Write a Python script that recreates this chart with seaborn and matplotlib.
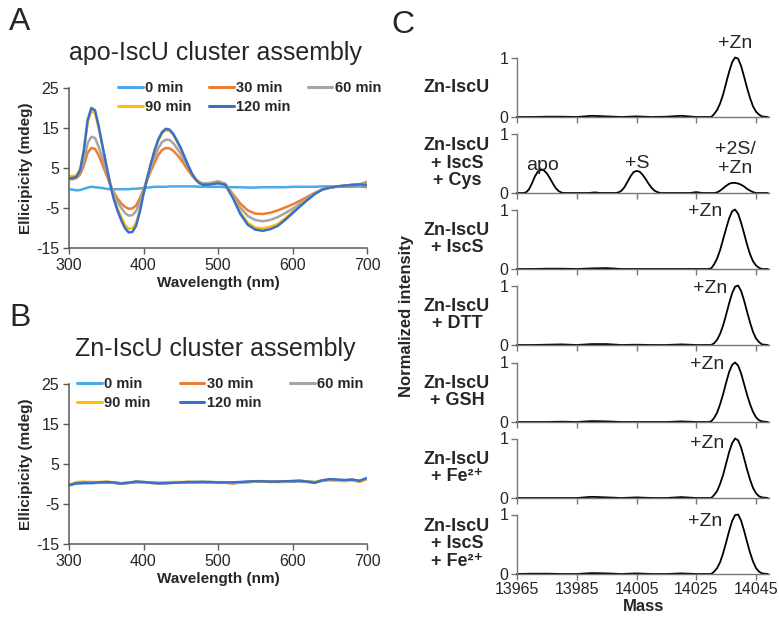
import matplotlib
matplotlib.use('Agg')
import matplotlib.pyplot as plt
import pandas as pd
import seaborn as sns

sns.set_style('ticks')
plt.rcParams['font.family'] = ['Liberation Sans', 'DejaVu Sans']
plt.rcParams['axes.unicode_minus'] = False

W, H = 779, 620

# ---- panel A : CD spectra of apo-IscU ----
wl_a = list(range(300, 481, 5)) + list(range(490, 701, 10))
times = ['0 min', '30 min', '60 min', '90 min', '120 min']
colors = ['#4ba9e9', '#ed7d31', '#a5a5a5', '#ffc000', '#3870cc']

apo_0 = [-0.3, -0.4, -0.6, -0.5, -0.2, 0.1, 0.3, 0.2, 0.1, 0.0, -0.2, -0.3, -0.3,
         -0.3, -0.3, -0.3, -0.3, -0.2, -0.2, -0.1, 0.0, 0.1, 0.2, 0.3, 0.3, 0.3,
         0.3, 0.4, 0.4, 0.4, 0.4, 0.4, 0.4, 0.4, 0.4, 0.3, 0.3, 0.3, 0.3,
         0.2, 0.2, 0.2, 0.1, 0.1, 0.2, 0.2, 0.2, 0.2, 0.3, 0.3, 0.3, 0.3, 0.4,
         0.4, 0.3, 0.3, 0.3, 0.4, 0.2]
apo_30 = [2.2, 2.2, 2.5, 3.4, 5.6, 8.8, 10.0, 9.8, 8.1, 5.8, 3.4, 1.0, -1.0,
          -2.6, -3.8, -4.7, -5.2, -5.1, -4.4, -2.6, -0.3, 2.0, 4.3, 6.4, 8.3, 9.5,
          10.0, 9.9, 9.3, 8.3, 7.2, 5.8, 4.4, 3.1, 2.1, 1.4, 1.1, 1.2, 1.3,
          0.9, -1.5, -3.9, -5.6, -6.4, -6.5, -6.2, -5.6, -4.9, -4.1, -3.2, -2.2, -1.2,
          -0.4, 0.1, 0.3, 0.5, 0.7, 0.8, 0.6]
apo_60 = [2.7, 2.7, 2.9, 4.0, 6.8, 11.2, 12.8, 12.5, 10.2, 7.3, 4.2, 1.2, -1.4,
          -3.4, -4.9, -6.2, -6.9, -6.8, -5.8, -3.6, -0.6, 2.4, 5.2, 7.8, 10.0, 11.5,
          12.1, 12.0, 11.2, 9.9, 8.5, 6.8, 5.1, 3.5, 2.3, 1.5, 1.1, 1.3, 1.7,
          1.1, -1.8, -4.9, -7.0, -8.0, -8.3, -8.0, -7.3, -6.3, -5.2, -3.9, -2.6, -1.3,
          -0.3, 0.1, 0.4, 0.6, 0.7, 0.9, 1.6]
apo_90 = [3.0, 3.0, 3.2, 4.8, 9.4, 16.4, 19.3, 18.7, 14.8, 10.2, 5.7, 1.3, -2.3,
          -5.0, -7.2, -9.1, -10.2, -10.1, -8.7, -5.5, -1.3, 2.5, 6.0, 9.3, 11.9, 13.7,
          14.4, 14.3, 13.3, 11.6, 9.8, 7.7, 5.6, 3.6, 2.2, 1.3, 0.9, 1.0, 1.3,
          0.9, -2.3, -6.1, -8.7, -9.9, -10.1, -9.7, -9.0, -7.6, -6.0, -4.4, -2.9, -1.4,
          -0.4, 0.1, 0.4, 0.6, 0.8, 0.9, 1.0]
apo_120 = [2.4, 2.5, 2.8, 4.5, 9.5, 17.0, 20.0, 19.4, 15.3, 10.5, 5.8, 1.2, -2.7,
           -5.6, -8.0, -10.0, -11.1, -11.0, -9.5, -6.0, -1.5, 2.5, 6.2, 9.5, 12.2, 14.0,
           14.8, 14.6, 13.5, 11.8, 10.0, 7.8, 5.6, 3.6, 2.1, 1.2, 0.8, 0.9, 1.2,
           0.8, -2.5, -6.5, -9.2, -10.4, -10.7, -10.3, -9.5, -8.0, -6.3, -4.6, -3.0, -1.5,
           -0.4, 0.1, 0.4, 0.6, 0.8, 0.9, 0.8]

# ---- panel B : CD spectra of Zn-IscU ----
wl_b = list(range(300, 701, 10))
zn_0 = [-0.2, 0.1, 0.2, 0.2, 0.3, 0.4, 0.3, 0.2, 0.3, 0.5, 0.4, 0.3, 0.2, 0.3, 0.3,
        0.4, 0.4, 0.4, 0.5, 0.4, 0.4, 0.4, 0.3, 0.4, 0.5, 0.6, 0.6, 0.6, 0.5, 0.6, 0.7,
        0.7, 0.6, 0.5, 0.8, 1.0, 1.0, 0.9, 1.0, 0.8, 1.2]
zn_30 = [-0.3, 0.3, 0.3, 0.3, 0.4, 0.4, 0.3, 0.1, 0.3, 0.5, 0.4, 0.3, 0.2, 0.2, 0.4,
         0.4, 0.5, 0.4, 0.5, 0.4, 0.3, 0.3, 0.1, 0.4, 0.5, 0.6, 0.6, 0.5, 0.6, 0.5, 0.7,
         0.8, 0.5, 0.4, 0.9, 1.0, 0.9, 0.8, 1.1, 0.5, 1.3]
zn_60 = [-0.3, 0.2, 0.3, 0.3, 0.4, 0.4, 0.3, 0.1, 0.3, 0.5, 0.5, 0.3, 0.2, 0.3, 0.3,
         0.4, 0.4, 0.5, 0.5, 0.4, 0.4, 0.4, 0.3, 0.4, 0.5, 0.6, 0.7, 0.6, 0.6, 0.6, 0.7,
         0.7, 0.6, 0.4, 0.9, 1.1, 1.0, 0.9, 1.0, 0.7, 1.3]
zn_90 = [-0.2, 0.5, 0.6, 0.5, 0.5, 0.6, 0.4, 0.2, 0.4, 0.6, 0.4, 0.3, 0.3, 0.4, 0.5,
         0.5, 0.5, 0.5, 0.5, 0.5, 0.4, 0.4, 0.3, 0.4, 0.5, 0.6, 0.7, 0.6, 0.5, 0.6, 0.8,
         0.9, 0.6, 0.5, 0.9, 0.9, 0.8, 0.7, 1.0, 0.6, 1.3]
zn_120 = [-0.3, 0.2, 0.3, 0.3, 0.4, 0.5, 0.4, 0.1, 0.3, 0.6, 0.5, 0.3, 0.2, 0.2, 0.3,
          0.4, 0.5, 0.5, 0.5, 0.5, 0.4, 0.4, 0.4, 0.5, 0.6, 0.7, 0.7, 0.6, 0.6, 0.7, 0.7,
          0.8, 0.6, 0.3, 0.9, 1.2, 1.1, 1.0, 1.1, 0.8, 1.5]

# ---- panel C : deconvoluted mass spectra ----
zn_mass = [13965, 13970, 13975, 13980, 13985, 13990, 13995, 14000, 14005, 14010, 14015,
           14020, 14025, 14029, 14030, 14031, 14032, 14033, 14034, 14035, 14036, 14037,
           14038, 14039, 14040, 14041, 14042, 14043, 14044, 14045, 14046, 14047, 14049]
int_zn = [0, 0, 0.005, 0.005, 0, 0.02, 0.01, 0, 0.01, 0, 0.005, 0.02, 0, 0,
          0.0, 0.05, 0.12, 0.23, 0.38, 0.57, 0.76, 0.92, 1.0, 0.98, 0.86, 0.68, 0.49,
          0.32, 0.18, 0.09, 0.04, 0.01, 0]
int_iscs = [0, 0, 0.005, 0.005, 0, 0.01, 0.015, 0, 0, 0, 0, 0, 0, 0,
            0.01, 0.08, 0.18, 0.32, 0.5, 0.68, 0.85, 0.97, 1.0, 0.93, 0.78, 0.6, 0.41,
            0.25, 0.13, 0.06, 0.02, 0.0, 0]
int_dtt = [0, 0, 0.005, 0.01, 0, 0.015, 0.015, 0, 0.005, 0, 0, 0.01, 0, 0,
           0.0, 0.03, 0.09, 0.19, 0.33, 0.51, 0.7, 0.87, 0.98, 1.0, 0.91, 0.75, 0.56,
           0.38, 0.22, 0.11, 0.05, 0.01, 0]
int_gsh = [0, 0, 0, 0.005, 0, 0.015, 0.01, 0, 0, 0, 0, 0.01, 0, 0,
           0.01, 0.07, 0.16, 0.3, 0.47, 0.66, 0.84, 0.96, 1.0, 0.95, 0.82, 0.64, 0.46,
           0.3, 0.17, 0.08, 0.03, 0.01, 0]
int_fe = [0, 0, 0, 0, 0, 0.02, 0.01, 0, 0.01, 0, 0, 0.015, 0, 0,
          0.0, 0.05, 0.12, 0.24, 0.39, 0.58, 0.77, 0.92, 1.0, 0.97, 0.85, 0.67, 0.48,
          0.31, 0.17, 0.08, 0.03, 0.01, 0]
int_iscs_fe = [0, 0.005, 0.005, 0, 0, 0.015, 0.01, 0, 0.01, 0, 0, 0.01, 0, 0,
               0.0, 0.04, 0.1, 0.2, 0.35, 0.53, 0.72, 0.89, 0.99, 1.0, 0.9, 0.73, 0.54,
               0.36, 0.21, 0.1, 0.04, 0.01, 0]

cys_mass = [13965, 13967, 13968, 13969, 13970, 13971, 13972, 13973, 13974, 13975, 13976,
            13977, 13978, 13979, 13980, 13981, 13985, 13989, 13991, 13993, 13998, 13999,
            14000, 14001, 14002, 14003, 14004, 14005, 14006, 14007, 14008, 14009, 14010,
            14011, 14012, 14013, 14018, 14023, 14025, 14027, 14031, 14032, 14033, 14034,
            14035, 14036, 14037, 14038, 14039, 14040, 14041, 14042, 14043, 14044, 14045, 14049]
int_cys = [0, 0, 0.01, 0.06, 0.16, 0.28, 0.36, 0.39, 0.38, 0.33, 0.25,
           0.16, 0.08, 0.03, 0.005, 0, 0, 0, 0.01, 0, 0, 0.01,
           0.04, 0.1, 0.19, 0.28, 0.35, 0.37, 0.36, 0.31, 0.24, 0.16, 0.09,
           0.04, 0.015, 0, 0, 0, 0.015, 0, 0, 0.01, 0.04, 0.08,
           0.12, 0.155, 0.17, 0.17, 0.16, 0.14, 0.11, 0.07, 0.04, 0.015, 0, 0]

conditions = ['Zn-IscU', 'Zn-IscU\n+ IscS\n+ Cys', 'Zn-IscU\n+ IscS', 'Zn-IscU\n+ DTT',
              'Zn-IscU\n+ GSH', 'Zn-IscU\n+ Fe²⁺', 'Zn-IscU\n+ IscS\n+ Fe²⁺']
mass_ticks = [13965, 13985, 14005, 14025, 14045]


def fx(px):
    return px / W


def fy(py):
    return 1 - py / H


spine_col = '#595959'


def cd_panel(ax, wl, series, title, letter, top_px, leg_x, colspace):
    for lbl, vals, col in zip(times, series, colors):
        df = pd.DataFrame({'wl': wl, 'ell': vals})
        sns.lineplot(data=df, x='wl', y='ell', ax=ax, color=col, lw=1.8, label=lbl)
    ax.set_xlim(300, 700)
    ax.set_ylim(-15, 25)
    ax.set_xticks([300, 400, 500, 600, 700])
    ax.set_yticks([-15, -5, 5, 15, 25])
    ax.tick_params(labelsize=11.5, length=4, width=1, color=spine_col, pad=3)
    for s in ['top', 'right']:
        ax.spines[s].set_visible(False)
    for s in ['left', 'bottom']:
        ax.spines[s].set_color(spine_col)
        ax.spines[s].set_linewidth(1.1)
    ax.set_xlabel('Wavelength (nm)', fontsize=11, fontweight='bold', labelpad=2)
    ax.set_ylabel('Ellicipicity (mdeg)', fontsize=11, fontweight='bold', labelpad=2)
    h, l = ax.get_legend_handles_labels()
    order = [0, 3, 1, 4, 2]
    leg = ax.legend([h[i] for i in order], [l[i] for i in order], ncol=3, frameon=False,
                    loc='upper left', bbox_to_anchor=(leg_x, 1.045), borderaxespad=0,
                    borderpad=0, handlelength=1.7, handletextpad=0.15,
                    columnspacing=colspace, labelspacing=0.35,
                    prop={'weight': 'bold', 'size': 10.5})
    for ln in leg.get_lines():
        ln.set_linewidth(2.2)
    fig.text(fx(215), fy(top_px - 35), title, fontsize=18, ha='center', va='center')
    fig.text(fx(20), fy(top_px - 66), letter, fontsize=23, ha='center', va='center')


fig = plt.figure(figsize=(W / 100, H / 100), dpi=100)

axA = fig.add_axes([fx(69), fy(248), fx(298), 160 / H])
cd_panel(axA, wl_a, [apo_0, apo_30, apo_60, apo_90, apo_120], 'apo-IscU cluster assembly',
         'A', 88, 0.164, 1.2)

axB = fig.add_axes([fx(69), fy(544), fx(298), 160 / H])
cd_panel(axB, wl_b, [zn_0, zn_30, zn_60, zn_90, zn_120], 'Zn-IscU cluster assembly',
         'B', 384, 0.027, 2.0)

# panel C
traces = [(zn_mass, int_zn), (cys_mass, int_cys), (zn_mass, int_iscs), (zn_mass, int_dtt),
          (zn_mass, int_gsh), (zn_mass, int_fe), (zn_mass, int_iscs_fe)]
zero_px = [117, 193, 269, 345, 422, 498, 574]
labels_zn = [(14038, 1.23), None, (14028, 0.97), (14029.5, 0.95), (14028.7, 0.97),
             (14028.7, 0.92), (14028, 0.88)]
px_per_da = 2.9875
xmax = 14049.5

for i, ((m, v), cond) in enumerate(zip(traces, conditions)):
    ax = fig.add_axes([fx(517), fy(zero_px[i]), (xmax - 13965) * px_per_da / W, 59.5 / H])
    df = pd.DataFrame({'mass': m, 'intensity': v})
    sns.lineplot(data=df, x='mass', y='intensity', ax=ax, color='black', lw=1.3)
    for ln in ax.lines:
        ln.set_clip_on(False)
    ax.set_xlim(13965, xmax)
    ax.set_ylim(0, 1)
    ax.set_yticks([0, 1])
    ax.set_xticks(mass_ticks)
    ax.set_xlabel('')
    ax.set_ylabel('')
    ax.patch.set_visible(False)
    for s in ['top', 'right']:
        ax.spines[s].set_visible(False)
    for s in ['left', 'bottom']:
        ax.spines[s].set_color('#777777')
        ax.spines[s].set_linewidth(1.0)
    ax.tick_params(labelsize=11.5, length=4, width=1, color='#777777', pad=2)
    if i < len(traces) - 1:
        ax.tick_params(axis='x', labelbottom=False)
    fig.text(fx(457), fy(zero_px[i] - 30), cond, fontsize=13, fontweight='bold',
             ha='center', va='center', multialignment='center', linespacing=1.05)
    if labels_zn[i] is not None:
        ax.text(labels_zn[i][0], labels_zn[i][1], '+Zn', fontsize=14, ha='center', va='center')
    if i == 1:
        ax.text(13973.4, 0.47, 'apo', fontsize=14, ha='center', va='center')
        ax.text(14005.2, 0.5, '+S', fontsize=14, ha='center', va='center')
        ax.text(14038, 0.57, '+2S/\n+Zn', fontsize=14, ha='center', va='center', linespacing=1.2)
    if i == len(traces) - 1:
        ax.set_xlabel('Mass', fontsize=12, fontweight='bold', labelpad=1)

fig.text(fx(407), fy(316), 'Normalized intensity', fontsize=12, fontweight='bold',
         rotation=90, ha='center', va='center')
fig.text(fx(403), fy(25), 'C', fontsize=23, ha='center', va='center')

fig.savefig('out.png', dpi=100)
